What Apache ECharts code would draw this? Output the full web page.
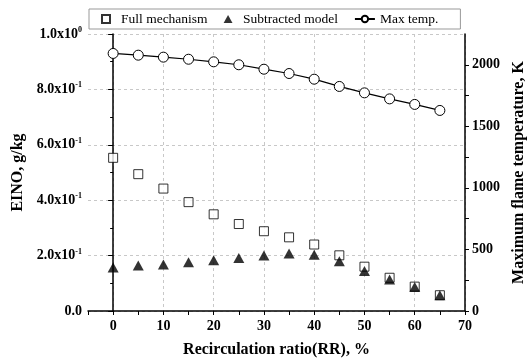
<!DOCTYPE html>
<html>
<head>
<meta charset="utf-8">
<title>EINO vs recirculation ratio</title>
<script src="https://cdn.jsdelivr.net/npm/echarts@6/dist/echarts.min.js"></script>
<style>
  html, body { margin: 0; padding: 0; background: #fff; }
  #chart { width: 528px; height: 362px; }
</style>
</head>
<body>
<div id="chart"></div>
<script>
// data
var ratio = [0, 5, 10, 15, 20, 25, 30, 35, 40, 45, 50, 55, 60, 65];
var fullMech = [0.553, 0.494, 0.442, 0.393, 0.349, 0.314, 0.288, 0.266, 0.240, 0.201, 0.160, 0.120, 0.088, 0.057];
var subtracted = [0.157, 0.164, 0.168, 0.176, 0.183, 0.191, 0.200, 0.208, 0.203, 0.180, 0.144, 0.114, 0.087, 0.057];
var maxTemp = [2092, 2078, 2062, 2045, 2024, 2000, 1964, 1929, 1883, 1824, 1772, 1723, 1678, 1629];

var font = 'Liberation Serif';

function pairs(xs, ys) {
    var out = [];
    for (var i = 0; i < xs.length; i++) out.push([xs[i], ys[i]]);
    return out;
}

var nameStyle = { fontFamily: font, fontSize: 16, fontWeight: 'bold', color: '#000' };

var chart = echarts.init(document.getElementById('chart'));

var option = {
    animation: false,
    grid: { left: 88, right: 63, top: 34, bottom: 51, outerBoundsMode: 'none', containLabel: false },
    legend: {
        left: 89,
        top: 9,
        padding: [3, 22, 3, 12],
        itemGap: 16,
        itemWidth: 20,
        itemHeight: 8,
        borderColor: '#999',
        borderWidth: 1,
        borderRadius: 0,
        textStyle: { fontFamily: font, fontSize: 13.5, color: '#000' },
        data: [
            { name: 'Full mechanism', icon: 'path://M0,0H10V10H0Z' },
            { name: 'Subtracted model', icon: 'path://M5,0L10,9H0Z' },
            { name: 'Max temp.' }
        ]
    },
    xAxis: {
        type: 'value',
        min: -5,
        max: 70,
        interval: 5,
        name: 'Recirculation ratio(RR), %',
        nameLocation: 'middle',
        nameGap: 31,
        nameTextStyle: nameStyle,
        axisLine: { lineStyle: { color: '#000', width: 1.5 } },
        axisTick: { show: true, length: 4, lineStyle: { color: '#000' } },
        axisLabel: {
            margin: 8,
            fontFamily: font, fontSize: 14, fontWeight: 'bold', color: '#000',
            formatter: function (v) { return v % 10 === 0 && v >= 0 ? String(v) : ''; }
        },
        splitLine: {
            show: true,
            lineStyle: { color: ['rgba(0,0,0,0)', '#c8c8c8'], type: [3, 3], width: 1 }
        }
    },
    yAxis: [{
        type: 'value',
        min: 0,
        max: 1.0,
        interval: 0.2,
        name: 'EINO, g/kg',
        nameLocation: 'middle',
        nameGap: 61,
        nameTextStyle: nameStyle,
        axisLine: { show: true, lineStyle: { color: '#000', width: 1.5 } },
        axisTick: { show: true, length: 5, lineStyle: { color: '#000' } },
        minorTick: { show: true, splitNumber: 2, length: 3, lineStyle: { color: '#000' } },
        axisLabel: {
            margin: 6,
            formatter: function (v) {
                if (v === 0) return '{b|0.0}';
                if (Math.abs(v - 1) < 1e-9) return '{b|1.0x10}{s|0}';
                return '{b|' + (v * 10).toFixed(1) + 'x10}{s|-1}';
            },
            rich: {
                b: { fontFamily: font, fontSize: 14, fontWeight: 'bold', color: '#000', lineHeight: 16 },
                s: { fontFamily: font, fontSize: 8, fontWeight: 'bold', color: '#000', verticalAlign: 'top', lineHeight: 16 }
            }
        },
        splitLine: { show: true, lineStyle: { color: '#c8c8c8', type: [3, 3], width: 1 } }
    }, {
        type: 'value',
        min: 0,
        max: 2250,
        interval: 250,
        position: 'right',
        name: 'Maximum flame temperature, K',
        nameLocation: 'middle',
        nameGap: 46,
        nameRotate: 90,
        nameTextStyle: nameStyle,
        axisLine: { show: true, lineStyle: { color: '#000', width: 1.5 } },
        axisTick: { show: true, length: 4, lineStyle: { color: '#000' } },
        axisLabel: {
            margin: 7,
            showMaxLabel: false,
            fontFamily: font, fontSize: 14, fontWeight: 'bold', color: '#000',
            formatter: function (v) { return v % 500 === 0 ? String(v) : ''; }
        },
        splitLine: { show: false }
    }],
    series: [{
        name: 'Full mechanism',
        type: 'scatter',
        yAxisIndex: 0,
        symbol: 'rect',
        symbolSize: 9,
        itemStyle: { color: '#fff', borderColor: '#000', borderWidth: 1 },
        data: pairs(ratio, fullMech)
    }, {
        name: 'Subtracted model',
        type: 'scatter',
        yAxisIndex: 0,
        symbol: 'triangle',
        symbolSize: [11, 10],
        itemStyle: { color: '#000' },
        data: pairs(ratio, subtracted)
    }, {
        name: 'Max temp.',
        type: 'line',
        yAxisIndex: 1,
        symbol: 'circle',
        symbolSize: 10,
        showAllSymbol: true,
        lineStyle: { color: '#000', width: 1.2 },
        itemStyle: { color: '#fff', borderColor: '#000', borderWidth: 1 },
        data: pairs(ratio, maxTemp)
    }]
};

chart.setOption(option);
</script>
</body>
</html>
